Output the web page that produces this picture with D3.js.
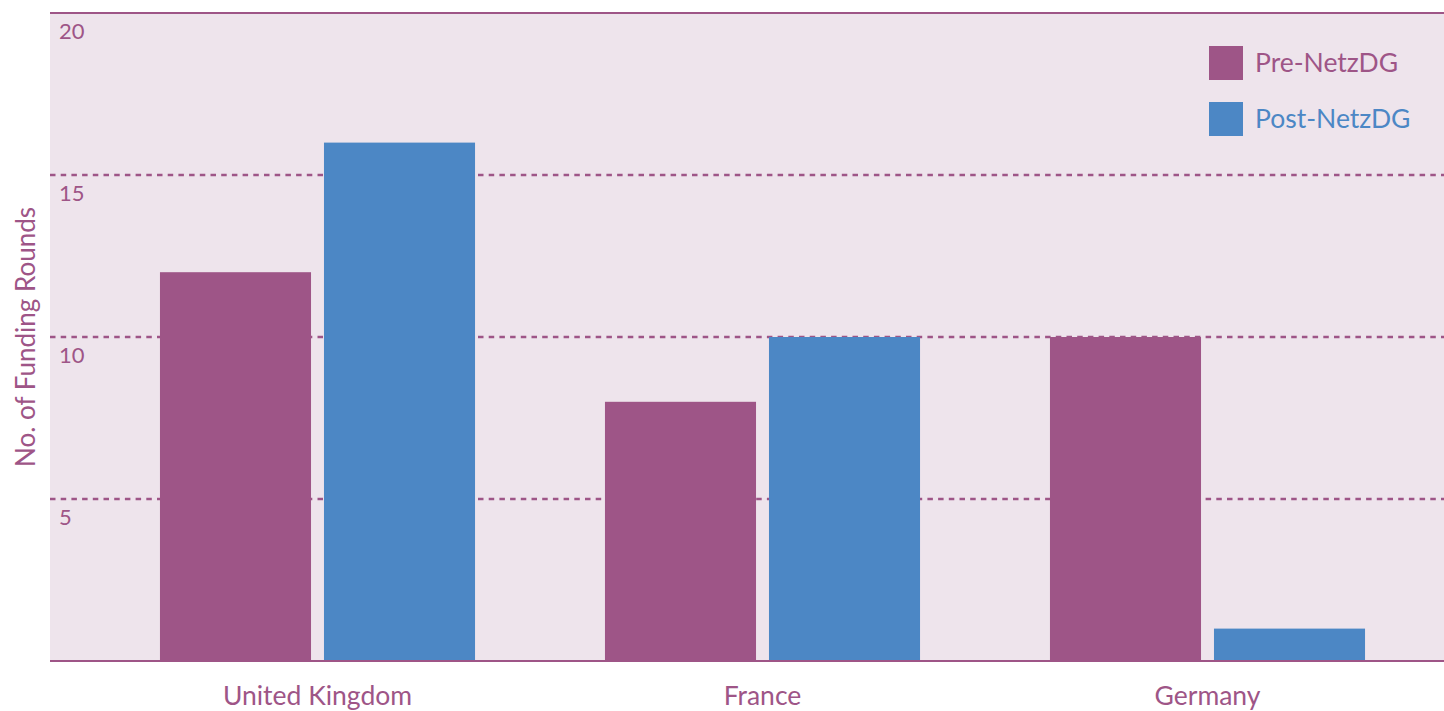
<!DOCTYPE html>
<html>
<head>
<meta charset="utf-8">
<script src="https://cdn.jsdelivr.net/npm/d3@7"></script>
<style>
  body { margin: 0; background: #fff; }
  svg text { font-family: Lato, "Open Sans", sans-serif; fill: #9e5587; }
</style>
</head>
<body>
<svg width="1444" height="711"></svg>
<script>
// data
let countries = ["United Kingdom", "France", "Germany"];
let seriesNames = ["Pre-NetzDG", "Post-NetzDG"];
let preValues = [12, 8, 10];
let postValues = [16, 10, 1];
let yTicks = [5, 10, 15, 20];

let purple = "#9e5587";
let blue = "#4c87c5";

let svg = d3.select("svg");

// plot area
let plotLeft = 50, plotRight = 1444, plotTop = 13, plotBottom = 661;

let rows = countries.map(function(c, i) {
  return { country: c, values: [preValues[i], postValues[i]] };
});

let x0 = d3.scaleBand()
  .domain(countries)
  .range([95, 1430])
  .paddingInner(0.292)
  .paddingOuter(0.146);

let x1 = d3.scaleBand()
  .domain(seriesNames)
  .range([0, x0.bandwidth()])
  .paddingInner(0.079);

let y = d3.scaleLinear().domain([0, 20]).range([plotBottom, plotTop]);

let color = d3.scaleOrdinal().domain(seriesNames).range([purple, blue]);

// background
svg.append("rect")
  .attr("x", plotLeft)
  .attr("y", plotTop)
  .attr("width", plotRight - plotLeft)
  .attr("height", plotBottom - plotTop)
  .attr("fill", "#eee4ec");

// dashed gridlines
svg.append("g")
  .selectAll("line")
  .data(yTicks.filter(function(d) { return d < 20; }))
  .enter()
  .append("line")
  .attr("x1", plotLeft)
  .attr("x2", plotRight)
  .attr("y1", function(d) { return y(d); })
  .attr("y2", function(d) { return y(d); })
  .attr("stroke", purple)
  .attr("stroke-width", 2.4)
  .attr("stroke-dasharray", "5.5,5.2");

// bars
let groups = svg.append("g")
  .selectAll("g")
  .data(rows)
  .enter()
  .append("g")
  .attr("transform", function(d) { return "translate(" + x0(d.country) + ",0)"; });

groups.selectAll("rect")
  .data(function(d) {
    return seriesNames.map(function(s, i) { return { key: s, value: d.values[i] }; });
  })
  .enter()
  .append("rect")
  .attr("x", function(d) { return x1(d.key); })
  .attr("y", function(d) { return y(d.value); })
  .attr("width", x1.bandwidth())
  .attr("height", function(d) { return plotBottom - y(d.value); })
  .attr("fill", function(d) { return color(d.key); });

// top and bottom solid lines
svg.append("line")
  .attr("x1", plotLeft).attr("x2", plotRight)
  .attr("y1", y(20)).attr("y2", y(20))
  .attr("stroke", purple).attr("stroke-width", 2);
svg.append("line")
  .attr("x1", plotLeft).attr("x2", plotRight)
  .attr("y1", y(0)).attr("y2", y(0))
  .attr("stroke", purple).attr("stroke-width", 2);

// y tick labels, inside the plot under each line
svg.append("g")
  .selectAll("text")
  .data(yTicks)
  .enter()
  .append("text")
  .attr("x", 59)
  .attr("y", function(d) { return y(d) + 26; })
  .attr("font-size", 22)
  .text(function(d) { return d; });

// x axis labels
let xAxis = svg.append("g")
  .attr("transform", "translate(0," + plotBottom + ")")
  .call(d3.axisBottom(x0).tickSize(0).tickPadding(25));
xAxis.select(".domain").remove();
xAxis.selectAll("text")
  .attr("font-size", 26.5)
  .attr("dy", "0.71em")
  .style("font-family", "Lato, 'Open Sans', sans-serif")
  .attr("fill", purple);

// y axis title
svg.append("text")
  .attr("transform", "translate(35," + (plotTop + plotBottom) / 2 + ") rotate(-90)")
  .attr("text-anchor", "middle")
  .attr("font-size", 26)
  .text("No. of Funding Rounds");

// legend
let legend = svg.append("g")
  .selectAll("g")
  .data(seriesNames)
  .enter()
  .append("g")
  .attr("transform", function(d, i) { return "translate(1209," + (46 + i * 56) + ")"; });
legend.append("rect")
  .attr("width", 34)
  .attr("height", 34)
  .attr("fill", function(d) { return color(d); });
legend.append("text")
  .attr("x", 46)
  .attr("y", 17)
  .attr("dy", "0.35em")
  .attr("font-size", 26.5)
  .style("fill", function(d) { return color(d); })
  .text(function(d) { return d; });
</script>
</body>
</html>
